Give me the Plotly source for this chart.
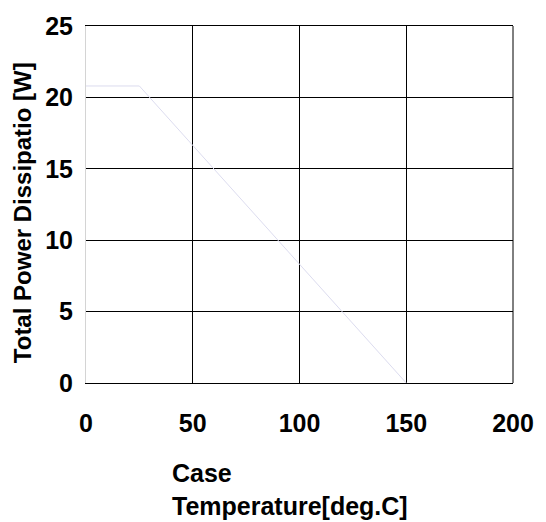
import plotly.graph_objects as go

# Data (derating curve)
case_temp = [0, 25, 150]
power = [20.8, 20.8, 0]

x_ticks = [0, 50, 100, 150, 200]
y_ticks = [0, 5, 10, 15, 20, 25]

FONT = "Liberation Sans, Arial, sans-serif"

fig = go.Figure()
fig.add_trace(go.Scatter(
    x=case_temp, y=power, mode="lines",
    line=dict(color="#dcdcef", width=1),
    showlegend=False, hoverinfo="skip",
))

fig.update_layout(
    width=546, height=522,
    margin=dict(l=86, r=28, t=17, b=139),
    paper_bgcolor="white", plot_bgcolor="white",
    font=dict(family=FONT, color="black"),
    xaxis=dict(
        range=[0, 200], tickvals=x_ticks, ticktext=["<b>%d</b>" % v for v in x_ticks],
        showgrid=True, gridcolor="black", gridwidth=1,
        zeroline=False, showline=True, linecolor="black", linewidth=1, mirror=True,
        ticks="outside", ticklen=18, tickcolor="rgba(0,0,0,0)",
        tickfont=dict(family=FONT, size=25, color="black"),
        fixedrange=True,
    ),
    yaxis=dict(
        range=[0, 25], tickvals=y_ticks, ticktext=["<b>%d</b>" % v for v in y_ticks],
        showgrid=True, gridcolor="black", gridwidth=1,
        zeroline=False, showline=True, linecolor="#d4d4d4", linewidth=1,
        ticks="outside", ticklen=7, tickcolor="rgba(0,0,0,0)",
        tickfont=dict(family=FONT, size=25, color="black"),
        fixedrange=True,
    ),
    shapes=[
        dict(type="line", xref="paper", yref="paper", x0=1, x1=1, y0=0, y1=1,
             line=dict(color="black", width=1)),
    ],
    annotations=[
        dict(
            text="<b>Case</b><br><b>Temperature[deg.C]</b>",
            xref="paper", yref="paper", x=0.197, y=-0.208,
            xanchor="left", yanchor="top", align="left", showarrow=False,
            font=dict(family=FONT, size=25, color="black"),
        ),
        dict(
            text="<b>Total Power Dissipatio [W]</b>",
            xref="paper", yref="paper", x=-0.148, y=0.478,
            xanchor="center", yanchor="middle", textangle=-90, showarrow=False,
            font=dict(family=FONT, size=24, color="black"),
        ),
    ],
)

fig.write_html("out.html")
